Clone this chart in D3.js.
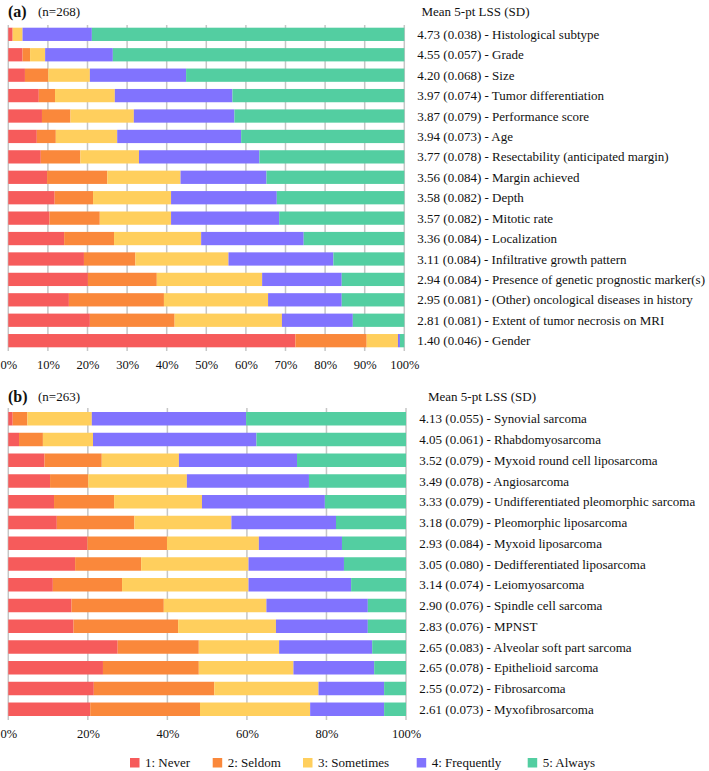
<!DOCTYPE html>
<html>
<head>
<meta charset="utf-8">
<script src="https://cdn.jsdelivr.net/npm/d3@7"></script>
<style>
  html, body { margin: 0; padding: 0; background: #fff; }
  svg { display: block; font-family: "Liberation Serif", "Times New Roman", serif; }
</style>
</head>
<body>
<svg id="chart" width="709" height="771"></svg>
<script>
// ---------- DATA ----------
const levels = ["1: Never", "2: Seldom", "3: Sometimes", "4: Frequently", "5: Always"];
const colors = ["#f65b5b", "#fa883b", "#ffcf5d", "#8173fe", "#53cea1"];

const factorsA = [
  "4.73 (0.038) - Histological subtype",
  "4.55 (0.057) - Grade",
  "4.20 (0.068) - Size",
  "3.97 (0.074) - Tumor differentiation",
  "3.87 (0.079) - Performance score",
  "3.94 (0.073) - Age",
  "3.77 (0.078) - Resectability (anticipated margin)",
  "3.56 (0.084) - Margin achieved",
  "3.58 (0.082) - Depth",
  "3.57 (0.082) - Mitotic rate",
  "3.36 (0.084) - Localization",
  "3.11 (0.084) - Infiltrative growth pattern",
  "2.94 (0.084) - Presence of genetic prognostic marker(s)",
  "2.95 (0.081) - (Other) oncological diseases in history",
  "2.81 (0.081) - Extent of tumor necrosis on MRI",
  "1.40 (0.046) - Gender"
];
const neverA      = [1.1, 3.6, 4.2, 7.7, 8.5, 7.2, 8.2, 9.8, 11.7, 10.4, 14.1, 19.1, 20.1, 15.3, 20.6, 72.5];
const seldomA     = [0.0, 1.9, 5.9, 4.1, 7.2, 4.8, 10.0, 15.2, 9.7, 12.7, 12.6, 13.0, 17.4, 24.0, 21.4, 18.0];
const sometimesA  = [2.5, 3.8, 10.5, 15.1, 16.0, 15.5, 14.8, 18.5, 19.7, 18.0, 22.0, 23.5, 26.6, 26.3, 27.1, 7.9];
const frequentlyA = [17.5, 17.1, 24.3, 29.7, 25.4, 31.3, 30.4, 21.7, 26.7, 27.3, 25.9, 26.5, 20.1, 18.6, 17.9, 0.5];
const alwaysA     = [78.9, 73.6, 55.1, 43.4, 42.9, 41.2, 36.6, 34.8, 32.2, 31.6, 25.4, 17.9, 15.8, 15.8, 13.0, 1.1];
const ticksA = [0, 10, 20, 30, 40, 50, 60, 70, 80, 90, 100];

const subtypesB = [
  "4.13 (0.055) - Synovial sarcoma",
  "4.05 (0.061) - Rhabdomyosarcoma",
  "3.52 (0.079) - Myxoid round cell liposarcoma",
  "3.49 (0.078) - Angiosarcoma",
  "3.33 (0.079) - Undifferentiated pleomorphic sarcoma",
  "3.18 (0.079) - Pleomorphic liposarcoma",
  "2.93 (0.084) - Myxoid liposarcoma",
  "3.05 (0.080) - Dedifferentiated liposarcoma",
  "3.14 (0.074) - Leiomyosarcoma",
  "2.90 (0.076) - Spindle cell sarcoma",
  "2.83 (0.076) - MPNST",
  "2.65 (0.083) - Alveolar soft part sarcoma",
  "2.65 (0.078) - Epithelioid sarcoma",
  "2.55 (0.072) - Fibrosarcoma",
  "2.61 (0.073) - Myxofibrosarcoma"
];
const neverB      = [1.1, 2.7, 9.1, 10.5, 11.5, 12.2, 19.9, 16.8, 11.2, 15.9, 16.4, 27.5, 23.8, 21.5, 20.6];
const seldomB     = [3.7, 6.0, 14.4, 9.6, 15.1, 19.5, 20.0, 16.6, 17.4, 23.2, 26.3, 20.4, 24.1, 30.3, 27.6];
const sometimesB  = [16.2, 12.6, 19.4, 24.8, 22.1, 24.4, 23.1, 27.0, 31.8, 25.8, 24.6, 20.2, 23.8, 26.2, 27.7];
const frequentlyB = [38.8, 41.1, 29.7, 30.7, 30.9, 26.3, 20.9, 24.0, 25.8, 25.5, 23.1, 23.4, 20.3, 16.5, 18.6];
const alwaysB     = [40.2, 37.6, 27.4, 24.4, 20.4, 17.6, 16.1, 15.6, 13.8, 9.6, 9.6, 8.5, 8.0, 5.5, 5.5];
const ticksB = [0, 20, 40, 60, 80, 100];

// ---------- DRAW ----------
const svg = d3.select("#chart");

function panel(cfg) {
  const { labels, series, ticks, xRange, yRange, gridTop, gridBottom, tickY,
          tag, n, tagY, headX, labelX } = cfg;
  const g = svg.append("g");
  const rows = labels.map((l, i) => {
    const o = { label: l };
    levels.forEach((lv, k) => { o[lv] = series[k][i]; });
    return o;
  });
  const stacked = d3.stack().keys(levels)(rows);
  const x = d3.scaleLinear().domain([0, 100]).range(xRange);
  const y = d3.scaleBand().domain(labels).range(yRange).paddingInner(0.35).paddingOuter(0);

  // gridlines
  g.append("g").selectAll("line").data(ticks).join("line")
    .attr("x1", d => x(d)).attr("x2", d => x(d))
    .attr("y1", gridTop).attr("y2", gridBottom)
    .attr("stroke", "#c6c6c6").attr("stroke-width", 1.5);

  // bars
  g.append("g").selectAll("g").data(stacked).join("g")
    .attr("fill", (d, i) => colors[i])
    .selectAll("rect").data(d => d).join("rect")
    .attr("x", d => x(d[0]))
    .attr("width", d => Math.max(0, x(d[1]) - x(d[0])))
    .attr("y", d => y(d.data.label))
    .attr("height", y.bandwidth());

  // x axis labels
  const ax = d3.axisBottom(x).tickValues(ticks).tickSize(0).tickFormat(d => d + "%");
  const axG = g.append("g").attr("transform", `translate(0,${tickY})`).call(ax);
  axG.select(".domain").remove();
  axG.selectAll("text").attr("font-family", "Liberation Serif").attr("font-size", 12.5)
    .attr("fill", "#111").attr("dy", "0.35em").attr("y", 0);

  // row labels
  g.append("g").selectAll("text").data(labels).join("text")
    .attr("x", labelX).attr("y", d => y(d) + y.bandwidth() / 2)
    .attr("dy", "0.35em").attr("font-size", 13).attr("fill", "#111")
    .text(d => d);

  // headers
  g.append("text").attr("x", 8).attr("y", tagY).attr("dy", "0.35em")
    .attr("font-size", 16).attr("font-weight", "bold").attr("fill", "#111").text(tag);
  g.append("text").attr("x", 38).attr("y", tagY).attr("dy", "0.35em")
    .attr("font-size", 13).attr("fill", "#111").text(n);
  g.append("text").attr("x", headX).attr("y", tagY).attr("dy", "0.35em")
    .attr("font-size", 13).attr("fill", "#111").text("Mean 5-pt LSS (SD)");
}

panel({
  labels: factorsA,
  series: [neverA, seldomA, sometimesA, frequentlyA, alwaysA],
  ticks: ticksA, xRange: [8.3, 404.3], yRange: [27.7, 347.3],
  gridTop: 25, gridBottom: 351, tickY: 364.5,
  tag: "(a)", n: "(n=268)", tagY: 11.5, headX: 421.5, labelX: 417.3
});

panel({
  labels: subtypesB,
  series: [neverB, seldomB, sometimesB, frequentlyB, alwaysB],
  ticks: ticksB, xRange: [8.3, 406], yRange: [412, 716],
  gridTop: 408, gridBottom: 720, tickY: 733.3,
  tag: "(b)", n: "(n=263)", tagY: 396.5, headX: 428, labelX: 419.3
});

// legend
const legendX = [130, 212.7, 303, 416.7, 527.7];
const lg = svg.append("g");
levels.forEach((lv, i) => {
  lg.append("rect").attr("x", legendX[i]).attr("y", 758).attr("width", 9.5).attr("height", 9.5)
    .attr("fill", colors[i]);
  lg.append("text").attr("x", legendX[i] + 15).attr("y", 762.7).attr("dy", "0.35em")
    .attr("font-size", 13).attr("fill", "#111").text(lv);
});
</script>
</body>
</html>
